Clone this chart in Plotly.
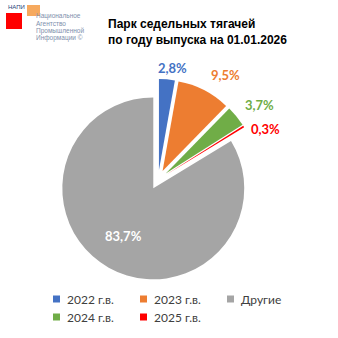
import plotly.graph_objects as go

# Share of tractor units by year of manufacture, %
labels = ["2022 г.в.", "2023 г.в.", "2024 г.в.", "2025 г.в.", "Другие"]
values = [2.8, 9.5, 3.7, 0.3, 83.7]
colors = ["#4472C4", "#ED7D31", "#70AD47", "#FF0000", "#A5A5A5"]

# legend order as shown under the chart (3 columns, 2 rows)
legend_order = ["2022 г.в.", "2023 г.в.", "Другие", "2024 г.в.", "2025 г.в."]

# data-label centres in pixels (same order as labels)
label_pos = [(172, 68), (225.5, 75.5), (259.5, 105), (265.5, 128.5), (123.5, 236)]

# legend grid: swatch column centres and row centres, pixels
legend_cols = [56.5, 143.5, 230.5]
legend_rows = [299, 317]

W = H = 338
LABEL_FONT = "Lato, 'Open Sans', sans-serif"


def px(x):
    return x / W


def py(y):
    return 1 - y / H


def pct(v):
    return f"{v:.1f}".replace(".", ",") + "%"


fig = go.Figure()
fig.add_trace(go.Pie(
    labels=labels,
    values=values,
    sort=False,
    direction="clockwise",
    rotation=0,
    pull=[0.108] * len(values),
    marker=dict(colors=colors, line=dict(width=0)),
    textinfo="none",
    hoverinfo="label+value",
    showlegend=False,
    domain=dict(x=[px(57.3), px(258.9)], y=[py(280.6), py(79)]),
))

shapes = [
    # logo blocks
    dict(type="rect", xref="paper", yref="paper",
         x0=px(6), x1=px(22), y0=py(29), y1=py(13),
         fillcolor="#FF0000", line=dict(width=0), layer="above"),
    dict(type="rect", xref="paper", yref="paper",
         x0=px(27), x1=px(40), y0=py(16), y1=py(5),
         fillcolor="#F5A04C", opacity=0.9, line=dict(width=0), layer="above"),
]

LOGO_FONT = "Liberation Sans Narrow, Liberation Sans, sans-serif"
annotations = [
    dict(text="НАПИ", x=px(6), y=py(7.5), xref="paper", yref="paper",
         xanchor="left", yanchor="middle", showarrow=False,
         font=dict(family=LOGO_FONT, size=6, color="#1F3F7A")),
    dict(text="<b>Парк седельных тягачей<br>по году выпуска на 01.01.2026</b>",
         x=px(106), y=py(15), xref="paper", yref="paper",
         xanchor="left", yanchor="top", align="left", showarrow=False,
         font=dict(family="Liberation Sans, Arial, sans-serif", size=12, color="#000000")),
]
for i, line in enumerate(["Национальное", "Агентство", "Промышленной", "Информации ©"]):
    annotations.append(dict(
        text=line, x=px(34), y=py(16.5 + 7.3 * i), xref="paper", yref="paper",
        xanchor="left", yanchor="middle", showarrow=False,
        font=dict(family=LOGO_FONT, size=6.5, color="#8090AC"),
    ))

# percentage labels for the slices
for lab, v, c, (lx, ly) in zip(labels, values, colors, label_pos):
    tc = "#FFFFFF" if lab == "Другие" else c
    annotations.append(dict(
        text=f"<b>{pct(v)}</b>", x=px(lx), y=py(ly), xref="paper", yref="paper",
        xanchor="center", yanchor="middle", showarrow=False,
        font=dict(family=LABEL_FONT, size=13, color=tc),
    ))

# legend: square swatch + caption per category
for k, lab in enumerate(legend_order):
    cx = legend_cols[k % 3]
    cy = legend_rows[k // 3]
    c = colors[labels.index(lab)]
    shapes.append(dict(
        type="rect", xref="paper", yref="paper",
        x0=px(cx - 3.5), x1=px(cx + 3.5), y0=py(cy + 3.5), y1=py(cy - 3.5),
        fillcolor=c, line=dict(width=0),
    ))
    annotations.append(dict(
        text=lab, x=px(cx + 8), y=py(cy), xref="paper", yref="paper",
        xanchor="left", yanchor="middle", showarrow=False,
        font=dict(family=LABEL_FONT, size=12, color="#404040"),
    ))

fig.update_layout(
    width=W, height=H,
    margin=dict(l=0, r=0, t=0, b=0),
    paper_bgcolor="#FFFFFF",
    showlegend=False,
    shapes=shapes,
    annotations=annotations,
)

fig.write_html("out.html")
